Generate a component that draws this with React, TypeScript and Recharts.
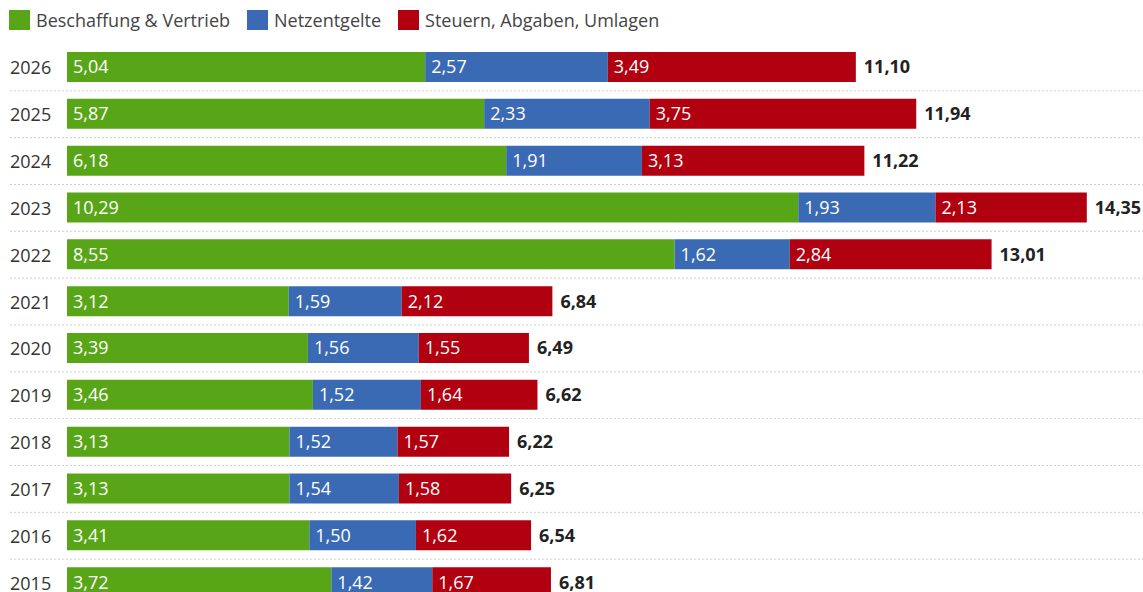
import { BarChart, Bar, XAxis, YAxis, LabelList } from 'recharts';

const years = ['2026', '2025', '2024', '2023', '2022', '2021', '2020', '2019', '2018', '2017', '2016', '2015'];
const beschaffung = [5.04, 5.87, 6.18, 10.29, 8.55, 3.12, 3.39, 3.46, 3.13, 3.13, 3.41, 3.72];
const netzentgelte = [2.57, 2.33, 1.91, 1.93, 1.62, 1.59, 1.56, 1.52, 1.52, 1.54, 1.5, 1.42];
const steuern = [3.49, 3.75, 3.13, 2.13, 2.84, 2.12, 1.55, 1.64, 1.57, 1.58, 1.62, 1.67];
const totals = [11.1, 11.94, 11.22, 14.35, 13.01, 6.84, 6.49, 6.62, 6.22, 6.25, 6.54, 6.81];

const GREEN = '#58a618';
const BLUE = '#3a6ab3';
const RED = '#b1000f';
const FONT = '"Open Sans", sans-serif';

const data = years.map((year, i) => ({
  year,
  beschaffung: beschaffung[i],
  netzentgelte: netzentgelte[i],
  steuern: steuern[i],
  total: totals[i],
}));

const fmt = (v: any) => Number(v).toFixed(2).replace('.', ',');

const legendItems = [
  { name: 'Beschaffung & Vertrieb', color: GREEN },
  { name: 'Netzentgelte', color: BLUE },
  { name: 'Steuern, Abgaben, Umlagen', color: RED },
];

// year label plus the dotted separator under each row
function YearTick(props: any) {
  const { y, payload } = props;
  return (
    <g>
      <text x={10} y={y} dominantBaseline="central" fontSize={18} fill="#333" fontFamily={FONT}>
        {payload.value}
      </text>
      <line x1={10} x2={1143} y1={y + 23.4} y2={y + 23.4} stroke="#cfcfcf" strokeDasharray="2 2" />
    </g>
  );
}

export default function App() {
  return (
    <div style={{ position: 'absolute', left: 0, top: 0, width: 1143, fontFamily: FONT }}>
      <div style={{ display: 'flex', alignItems: 'center', height: 40, paddingLeft: 9 }}>
        {legendItems.map((item) => (
          <div key={item.name} style={{ display: 'flex', alignItems: 'center', marginRight: 17 }}>
            <span style={{ width: 21, height: 20, background: item.color, display: 'inline-block', marginRight: 6 }} />
            <span style={{ fontSize: 18, color: '#444' }}>{item.name}</span>
          </div>
        ))}
      </div>
      <div style={{ position: 'absolute', left: 0, top: 0 }}>
        <BarChart
          width={1143}
          height={640}
          data={data}
          layout="vertical"
          margin={{ top: 44, right: 10, bottom: 34, left: 0 }}
          barCategoryGap={0}
        >
          <XAxis type="number" domain={[0, 15]} hide />
          <YAxis
            type="category"
            dataKey="year"
            width={67}
            axisLine={false}
            tickLine={false}
            tick={<YearTick />}
            interval={0}
          />
          <Bar dataKey="beschaffung" stackId="a" fill={GREEN} barSize={30} isAnimationActive={false}>
            <LabelList dataKey="beschaffung" position="insideLeft" offset={6} fill="#fff" fontSize={18} fontFamily={FONT} formatter={fmt} />
          </Bar>
          <Bar dataKey="netzentgelte" stackId="a" fill={BLUE} barSize={30} isAnimationActive={false}>
            <LabelList dataKey="netzentgelte" position="insideLeft" offset={6} fill="#fff" fontSize={18} fontFamily={FONT} formatter={fmt} />
          </Bar>
          <Bar dataKey="steuern" stackId="a" fill={RED} barSize={30} isAnimationActive={false}>
            <LabelList dataKey="steuern" position="insideLeft" offset={6} fill="#fff" fontSize={18} fontFamily={FONT} formatter={fmt} />
            <LabelList dataKey="total" position="right" offset={8} fill="#222" fontSize={18} fontWeight={700} fontFamily={FONT} formatter={fmt} />
          </Bar>
        </BarChart>
      </div>
    </div>
  );
}
